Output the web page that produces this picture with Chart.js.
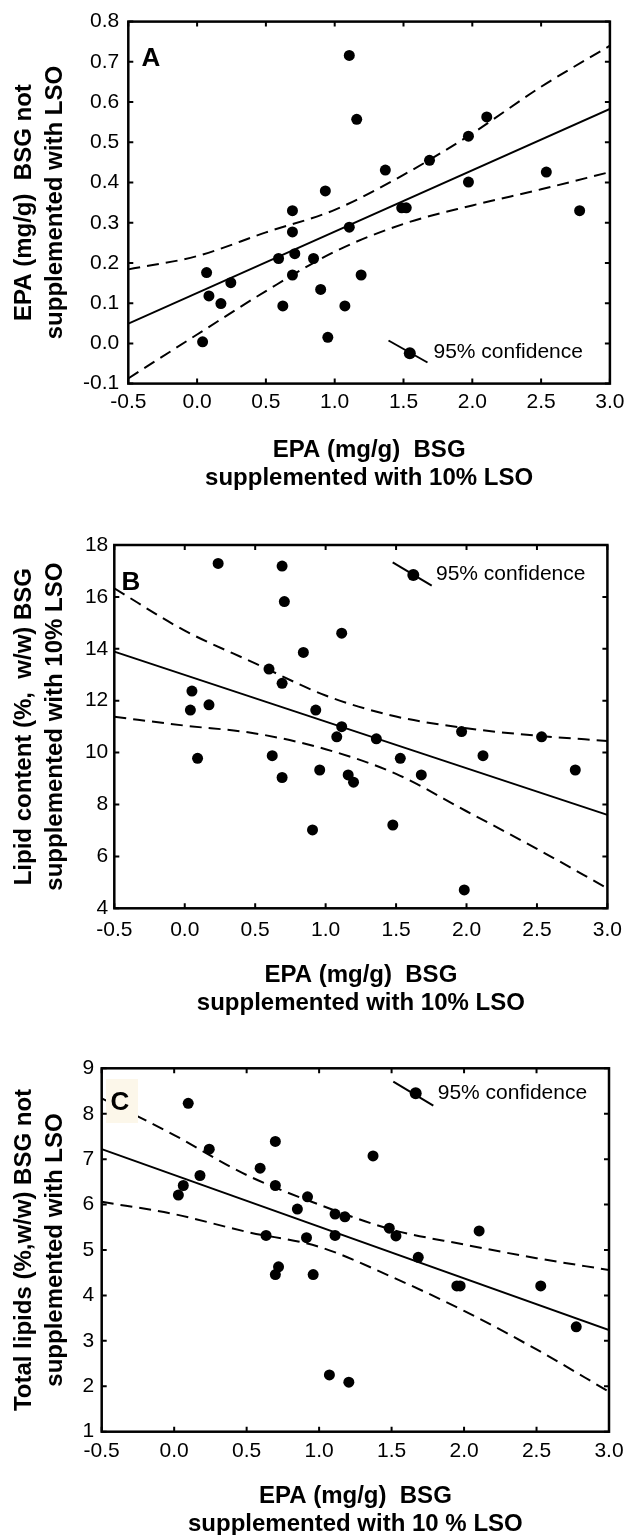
<!DOCTYPE html>
<html><head><meta charset="utf-8">
<script src="https://cdn.jsdelivr.net/npm/chart.js@4/dist/chart.umd.min.js"></script>
<style>
html,body{margin:0;padding:0;background:#fff;overflow:hidden;}
#wrap{position:relative;width:631px;height:1535px;}
canvas{position:absolute;left:0;}
</style></head><body>
<div id="wrap">
<canvas id="cA" width="631" height="500" style="top:0px"></canvas>
<canvas id="cB" width="631" height="520" style="top:500px"></canvas>
<canvas id="cC" width="631" height="515" style="top:1020px"></canvas>
</div>
<script>
// ---------- shared ----------
const xTicks = [-0.5, 0.0, 0.5, 1.0, 1.5, 2.0, 2.5, 3.0];
const ciX = [-0.5, 0.0, 0.5, 1.0, 1.5, 2.0, 2.5, 3.0];
const fitX = [-0.5, 3.0];

// ---------- panel A ----------
const yTicksA = [-0.1, 0.0, 0.1, 0.2, 0.3, 0.4, 0.5, 0.6, 0.7, 0.8];
const xA = [1.106, 1.160, 2.105, 1.972, 1.689, 1.368, 1.972, 2.538, 2.780, 0.932,
            0.693, 0.693, 1.487, 1.520, 1.106, 0.592, 0.710, 0.846, 0.693, 1.192,
            0.069, 0.245, 0.086, 0.173, 0.623, 0.898, 1.074, 0.950, 0.040];
const yA = [0.716, 0.557, 0.563, 0.515, 0.455, 0.431, 0.401, 0.426, 0.330, 0.379,
            0.330, 0.277, 0.337, 0.337, 0.289, 0.211, 0.223, 0.211, 0.170, 0.170,
            0.176, 0.151, 0.118, 0.099, 0.093, 0.134, 0.093, 0.015, 0.004];
const fitA = [0.049, 0.583];
const ciUpperA = [0.184, 0.217, 0.276, 0.332, 0.419, 0.522, 0.638, 0.740];
const ciLowerA = [-0.087, 0.022, 0.130, 0.228, 0.297, 0.343, 0.383, 0.426];

// ---------- panel B ----------
const yTicksB = [4, 6, 8, 10, 12, 14, 16, 18];
const xB = [0.237, 0.691, 0.707, 0.842, 0.598, 0.691, 0.051, 0.040, 0.172, 0.091,
            0.621, 0.691, 0.907, 1.114, 0.930, 1.114, 1.079, 1.360, 1.965, 2.533,
            2.117, 1.530, 2.772, 0.958, 1.160, 1.198, 1.679, 1.477, 1.984];
const yB = [17.29, 17.19, 15.82, 13.86, 13.22, 12.67, 12.37, 11.64, 11.84, 9.78,
            9.88, 9.04, 7.02, 14.60, 11.64, 11.00, 10.61, 10.53, 10.81, 10.61,
            9.88, 9.78, 9.33, 9.33, 9.14, 8.86, 9.14, 7.21, 4.71];
const fitB = [13.89, 7.60];
const ciUpperB = [16.33, 14.70, 13.44, 12.20, 11.39, 10.94, 10.65, 10.45];
const ciLowerB = [11.38, 11.04, 10.74, 10.13, 9.18, 7.74, 6.29, 4.77];

// ---------- panel C ----------
const yTicksC = [1, 2, 3, 4, 5, 6, 7, 8, 9];
const xC = [0.097, 0.242, 0.698, 0.593, 0.178, 0.063, 0.029, 0.698, 0.920, 0.850,
            0.634, 0.913, 0.720, 0.698, 0.959, 1.372, 1.110, 1.178, 1.484, 1.530,
            2.104, 1.110, 1.684, 1.950, 1.973, 2.529, 2.774, 1.071, 1.205];
const yC = [8.23, 7.22, 7.39, 6.80, 6.64, 6.42, 6.21, 6.42, 6.17, 5.90,
            5.32, 5.27, 4.63, 4.46, 4.46, 7.07, 5.79, 5.73, 5.48, 5.31,
            5.42, 5.32, 4.84, 4.21, 4.21, 4.21, 3.31, 2.25, 2.09];
const fitC = [7.22, 3.24];
const ciUpperC = [8.34, 7.53, 6.65, 6.00, 5.45, 5.12, 4.82, 4.56];
const ciLowerC = [6.06, 5.79, 5.40, 5.07, 4.41, 3.66, 2.81, 1.88];

// ---------- rendering ----------
const FONT = "'Liberation Sans', Arial, Helvetica, sans-serif";
Chart.defaults.font.family = FONT;
Chart.defaults.color = '#000';

const pts = (xs, ys) => xs.map((x, i) => ({x: x, y: ys[i]}));

function makePanel(id, p) {
  const lineDs = (xs, ys, dashed) => ({
    type: 'scatter', data: pts(xs, ys), showLine: true, pointRadius: 0,
    borderColor: '#000', borderWidth: 2, borderDash: dashed ? [12, 7] : [],
    cubicInterpolationMode: dashed ? 'monotone' : 'default', fill: false
  });
  const frame = {
    id: 'frame_' + id,
    afterDraw(chart) {
      const {ctx, chartArea: a, scales: {x, y}} = chart;
      ctx.save();
      if (p.letterBox) {
        ctx.fillStyle = '#fcf7ea';
        ctx.fillRect(p.letterBox[0], p.letterBox[1], p.letterBox[2], p.letterBox[3]);
      }
      ctx.strokeStyle = '#000';
      ctx.lineWidth = 2.5;
      ctx.strokeRect(a.left, a.top, a.right - a.left, a.bottom - a.top);
      ctx.lineWidth = 2;
      ctx.beginPath();
      x.ticks.forEach(t => {
        const px = x.getPixelForValue(t.value);
        ctx.moveTo(px, a.bottom); ctx.lineTo(px, a.bottom - 5);
        ctx.moveTo(px, a.top); ctx.lineTo(px, a.top + 5);
      });
      y.ticks.forEach(t => {
        const py = y.getPixelForValue(t.value);
        ctx.moveTo(a.left, py); ctx.lineTo(a.left + 5, py);
        ctx.moveTo(a.right, py); ctx.lineTo(a.right - 5, py);
      });
      ctx.stroke();
      // panel letter
      ctx.fillStyle = '#000';
      ctx.font = 'bold 26px ' + FONT;
      ctx.textAlign = 'left';
      ctx.textBaseline = 'middle';
      ctx.fillText(p.letter, p.letterPos[0], p.letterPos[1]);
      // legend symbol
      const L = p.legend;
      ctx.beginPath();
      ctx.moveTo(L.dot[0] + L.l1[0], L.dot[1] + L.l1[1]);
      ctx.lineTo(L.dot[0] + L.l2[0], L.dot[1] + L.l2[1]);
      ctx.stroke();
      ctx.beginPath();
      ctx.arc(L.dot[0], L.dot[1], 6, 0, Math.PI * 2);
      ctx.fill();
      ctx.font = '21px ' + FONT;
      ctx.fillText('95% confidence', L.text[0], L.text[1]);
      ctx.restore();
    }
  };
  return new Chart(document.getElementById(id), {
    type: 'scatter',
    data: {
      datasets: [
        {data: pts(p.xs, p.ys), pointRadius: 5.5, pointHoverRadius: 5.5,
         backgroundColor: '#000', borderWidth: 0, showLine: false},
        lineDs(fitX, p.fit, false),
        lineDs(ciX, p.up, true),
        lineDs(ciX, p.lo, true)
      ]
    },
    options: {
      responsive: false, animation: false, devicePixelRatio: 1,
      layout: {padding: {left: 0, right: 15, top: p.top, bottom: 0}},
      plugins: {legend: {display: false}, tooltip: {enabled: false}},
      scales: {
        x: {
          type: 'linear', min: -0.5, max: 3.0,
          afterBuildTicks: s => { s.ticks = xTicks.map(v => ({value: v})); },
          afterFit: s => { s.height = p.xH; },
          ticks: {callback: v => Number(v).toFixed(1), font: {size: 21}, padding: p.xPad,
                  maxRotation: 0, autoSkip: false, color: '#000'},
          grid: {display: false, drawTicks: false},
          border: {display: false},
          title: {display: true, text: p.xTitle, color: '#000',
                  font: {size: 24, weight: 'bold', lineHeight: 28 / 24},
                  padding: {top: 0, bottom: p.xTitlePad}}
        },
        y: {
          type: 'linear', min: p.yMin, max: p.yMax,
          afterBuildTicks: s => { s.ticks = p.yTicks.map(v => ({value: v})); },
          afterFit: s => { s.width = p.yW; },
          ticks: {callback: v => p.yFmt(v), font: {size: 21}, padding: p.yPad,
                  autoSkip: false, color: '#000'},
          grid: {display: false, drawTicks: false},
          border: {display: false},
          title: {display: true, text: p.yTitle, color: '#000',
                  font: {size: 24, weight: 'bold', lineHeight: 1.3},
                  padding: {top: 8.6, bottom: 0}}
        }
      }
    },
    plugins: [frame]
  });
}

makePanel('cA', {
  xs: xA, ys: yA, fit: fitA, up: ciUpperA, lo: ciLowerA,
  yTicks: yTicksA, yMin: -0.1, yMax: 0.8, yFmt: v => Number(v).toFixed(1),
  top: 20.7, yW: 128.3, xH: 116.4, xPad: 6.5, yPad: 9, xTitlePad: 8,
  xTitle: ['EPA (mg/g)  BSG', 'supplemented with 10% LSO'],
  yTitle: ['EPA (mg/g)  BSG not', 'supplemented with LSO'],
  letter: 'A', letterPos: [141.5, 59],
  legend: {dot: [409.8, 353.3], l1: [-21.3, -12.8], l2: [17.7, 9.2], text: [433.5, 352]}
});
makePanel('cB', {
  xs: xB, ys: yB, fit: fitB, up: ciUpperB, lo: ciLowerB,
  yTicks: yTicksB, yMin: 4, yMax: 18, yFmt: v => String(v),
  top: 45, yW: 114.3, xH: 111.7, xPad: 9, yPad: 6, xTitlePad: 3,
  xTitle: ['EPA (mg/g)  BSG', 'supplemented with 10% LSO'],
  yTitle: ['Lipid content (%,  w/w) BSG', 'supplemented with 10% LSO'],
  letter: 'B', letterPos: [121.5, 82.5],
  legend: {dot: [413.3, 75], l1: [-20.6, -12.7], l2: [18.4, 10.7], text: [436, 74]}
});
makePanel('cC', {
  xs: xC, ys: yC, fit: fitC, up: ciUpperC, lo: ciLowerC,
  yTicks: yTicksC, yMin: 1, yMax: 9, yFmt: v => String(v),
  top: 48.3, yW: 101.7, xH: 103.3, xPad: 7.4, yPad: 7.4, xTitlePad: -3,
  xTitle: ['EPA (mg/g)  BSG', 'supplemented with 10 % LSO'],
  yTitle: ['Total lipids (%,w/w) BSG not', 'supplemented with LSO'],
  letter: 'C', letterPos: [110.5, 83], letterBox: [106, 59, 32, 44],
  legend: {dot: [415.7, 73.3], l1: [-22.4, -11.6], l2: [17.6, 12.4], text: [437.7, 73.3]}
});
</script>
</body></html>
